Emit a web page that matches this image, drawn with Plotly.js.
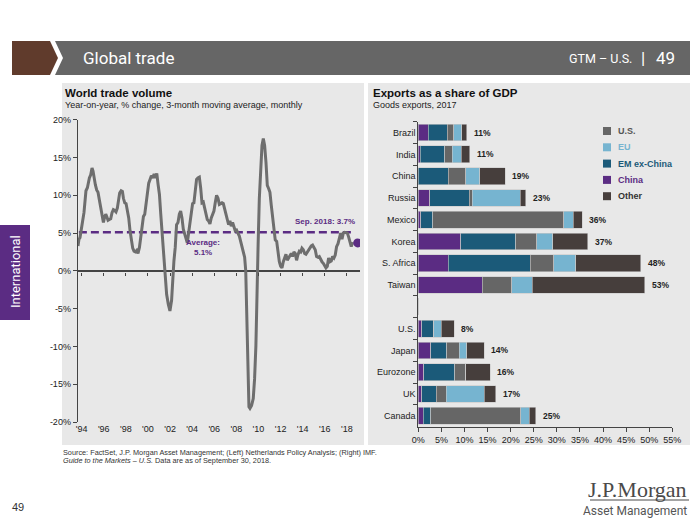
<!DOCTYPE html>
<html><head><meta charset="utf-8">
<script src="https://cdn.plot.ly/plotly-3.0.1.min.js"></script>
<style>html,body{margin:0;padding:0;background:#fff}#chart{width:700px;height:525px}</style>
</head><body><div id="chart"></div>
<script>
// ---------- Left chart: World trade volume (y/y %, 3m avg) ----------
const tradeYears = [
1993.67,1993.76,1993.85,1993.97,1994.09,1994.21,1994.30,1994.39,1994.52,1994.61,1994.70,1994.82,1994.94,
1995.03,1995.12,1995.24,1995.36,1995.48,1995.60,1995.72,1995.84,1995.97,1996.06,1996.18,1996.27,1996.39,
1996.51,1996.63,1996.75,1996.87,1996.99,1997.11,1997.23,1997.35,1997.44,1997.57,1997.69,1997.78,1997.90,
1998.02,1998.14,1998.26,1998.38,1998.50,1998.62,1998.74,1998.86,1998.98,1999.10,1999.23,1999.35,1999.47,
1999.59,1999.71,1999.83,1999.95,2000.07,2000.19,2000.31,2000.43,2000.56,2000.68,2000.80,2000.92,2001.04,
2001.16,2001.28,2001.39,2001.54,2001.69,2001.84,2001.99,2002.14,2002.23,2002.35,2002.47,2002.59,2002.72,
2002.84,2002.96,2003.08,2003.20,2003.32,2003.44,2003.56,2003.68,2003.80,2003.92,2004.04,2004.16,2004.28,
2004.40,2004.52,2004.65,2004.77,2004.89,2005.01,2005.13,2005.25,2005.37,2005.49,2005.61,2005.73,2005.85,
2005.97,2006.09,2006.21,2006.34,2006.46,2006.58,2006.70,2006.82,2006.94,2007.06,2007.18,2007.30,2007.42,
2007.54,2007.66,2007.78,2007.90,2008.02,2008.14,2008.27,2008.39,2008.51,2008.63,2008.75,2008.85,2008.93,
2009.00,2009.07,2009.14,2009.23,2009.38,2009.53,2009.65,2009.77,2009.83,2009.89,2009.97,2010.08,2010.20,
2010.32,2010.44,2010.56,2010.68,2010.80,2010.92,2011.04,2011.16,2011.28,2011.40,2011.52,2011.65,2011.77,
2011.89,2012.01,2012.13,2012.25,2012.37,2012.49,2012.61,2012.73,2012.85,2012.97,2013.09,2013.21,2013.33,
2013.45,2013.57,2013.70,2013.82,2013.94,2014.06,2014.18,2014.30,2014.42,2014.54,2014.66,2014.78,2014.90,
2015.02,2015.14,2015.26,2015.39,2015.51,2015.63,2015.75,2015.87,2015.99,2016.11,2016.23,2016.35,2016.47,
2016.59,2016.71,2016.83,2016.95,2017.07,2017.20,2017.32,2017.44,2017.56,2017.68,2017.80,2017.92,2018.04,
2018.16,2018.28,2018.40,2018.52];
const tradeValues = [
3.3,4.2,4.4,5.9,6.6,7.7,9.2,10.6,11.0,11.8,12.3,12.7,13.6,
13.2,12.1,11.4,10.7,10.4,9.4,8.3,7.2,6.4,7.0,7.5,7.2,6.7,
6.8,6.9,7.7,8.1,8.0,7.8,8.3,9.2,10.3,10.6,10.5,9.6,9.0,
8.9,8.1,7.0,5.3,3.7,3.0,2.6,2.5,2.7,2.3,3.1,4.4,5.9,
7.2,7.5,8.8,10.1,11.6,12.1,12.6,12.3,12.8,12.3,12.9,11.4,10.1,
7.5,4.8,2.2,0.0,-3.1,-4.4,-5.3,-3.9,-1.3,1.3,3.1,6.1,6.4,
7.5,7.9,7.0,5.5,4.8,4.4,3.7,5.0,6.1,7.7,8.9,9.0,10.5,
12.1,12.3,12.4,11.0,9.0,9.1,8.3,7.7,6.8,6.6,6.2,7.0,7.4,
7.9,9.0,10.0,9.6,8.8,8.9,9.0,8.9,8.1,7.5,6.8,6.1,6.6,
5.9,6.4,5.7,5.3,5.4,5.0,4.6,3.9,3.1,2.4,1.8,0.0,-4.5,
-9.0,-14.3,-18.0,-18.2,-17.8,-16.9,-14.3,-9.9,-4.6,0.0,3.5,9.6,14.4,
16.6,17.5,16.6,14.4,11.3,10.9,10.4,8.7,6.9,5.6,4.1,3.9,2.5,
1.2,0.6,0.4,1.2,1.9,2.2,1.4,1.7,2.1,2.3,1.9,2.5,2.3,
1.4,2.1,2.6,2.5,3.0,2.8,2.3,2.2,2.5,2.8,3.1,3.3,3.4,
3.1,2.8,1.9,1.8,1.9,1.4,1.2,1.0,0.6,0.4,0.6,1.7,1.2,
1.3,1.9,1.7,2.1,3.2,3.6,4.3,5.0,4.2,5.0,5.1,5.1,5.0,
4.5,3.9,3.2,3.8];
const averageValue = 5.1;
const averageSpan = [1993.75, 2018.45];
const latestYear = [2018.98];
const latestValue = [3.7];
const yearTicks = [1994,1996,1998,2000,2002,2004,2006,2008,2010,2012,2014,2016,2018];
const yearTickLabels = ["'94","'96","'98","'00","'02","'04","'06","'08","'10","'12","'14","'16","'18"];
const pctTicks = [-20,-15,-10,-5,0,5,10,15,20];
const pctTickLabels = ["-20%","-15%","-10%","-5%","0%","5%","10%","15%","20%"];

// ---------- Right chart: Exports as a share of GDP ----------
const countries = ['Brazil','India','China','Russia','Mexico','Korea','S. Africa','Taiwan',' ','U.S.','Japan','Eurozone','UK','Canada'];
const toChina     = [2.2, 0.4, 0.0,  2.5,  0.5,  9.2,  6.5, 13.9, 0, 0.7, 2.7, 1.2, 0.7,  1.1];
const toEMexChina = [4.1, 5.3, 6.5,  8.5,  2.6, 11.9, 17.7,  0.0, 0, 2.7, 3.5, 6.7, 3.2,  1.6];
const toUS        = [1.4, 1.7, 3.8,  0.7, 28.4,  4.5,  5.1,  6.3, 0, 0.0, 2.7, 2.4, 2.2, 19.5];
const toEU        = [1.7, 1.9, 3.0, 10.4,  2.1,  3.5,  4.8,  4.5, 0, 1.6, 1.6, 0.0, 8.2,  1.8];
const toOther     = [1.1, 1.8, 5.5,  1.2,  1.9,  7.6, 14.1, 24.3, 0, 2.8, 3.8, 5.3, 2.5,  1.4];
const totalLabels = ['11%','11%','19%','23%','36%','37%','48%','53%','','8%','14%','16%','17%','25%'];
const shareTicks = [0,5,10,15,20,25,30,35,40,45,50,55];
const shareTickLabels = ['0%','5%','10%','15%','20%','25%','30%','35%','40%','45%','50%','55%'];
const legendOrder = ['U.S.','EU','EM ex-China','China','Other'];

const FONT = 'Arial, "Liberation Sans", sans-serif';
const NARROW = '"Liberation Sans Narrow", "Roboto", "Open Sans", sans-serif';
const PURPLE = '#5b2c83', TEAL = '#1b5a79', GREY = '#666666', LBLUE = '#76b4d0', DARK = '#463e3c';
const W = 700, H = 525;
const px = x => x / W, py = y => 1 - y / H;

const segs = [
  {name:'China', vals:toChina, color:PURPLE, text:PURPLE},
  {name:'EM ex-China', vals:toEMexChina, color:TEAL, text:TEAL},
  {name:'U.S.', vals:toUS, color:GREY, text:'#555555'},
  {name:'EU', vals:toEU, color:LBLUE, text:LBLUE},
  {name:'Other', vals:toOther, color:DARK, text:'#333333'}
];

const traces = [];
traces.push({type:'scatter', mode:'lines', x:averageSpan, y:[averageValue, averageValue], xaxis:'x', yaxis:'y',
  line:{color:PURPLE, width:2.5, dash:'8px,4px'}, showlegend:false, hoverinfo:'skip'});
traces.push({type:'scatter', mode:'lines', x:tradeYears, y:tradeValues, xaxis:'x', yaxis:'y',
  line:{color:'#6e6e6e', width:3}, showlegend:false});
traces.push({type:'scatter', mode:'markers', x:latestYear, y:latestValue, xaxis:'x', yaxis:'y',
  marker:{color:PURPLE, size:9}, showlegend:false});
// axis on the zero line carrying the year ticks
traces.push({type:'scatter', mode:'markers', x:yearTicks, y:yearTicks.map(()=>null), xaxis:'x3', yaxis:'y',
  showlegend:false, hoverinfo:'skip'});

segs.forEach(s => {
  traces.push({type:'bar', orientation:'h', x:s.vals, y:countries, xaxis:'x2', yaxis:'y2', name:s.name,
    marker:{color:s.color, line:{color:'#c8c8c8', width:0.6}}, showlegend:false});
});

const annotations = [];
const ann = (text, x, y, o) => annotations.push(Object.assign({text, x:px(x), y:py(y), xref:'paper', yref:'paper',
  showarrow:false, xanchor:'left', yanchor:'middle', font:{family:FONT, size:9, color:'#222'}}, o||{}));

// header
ann('Global trade', 81, 58, {font:{family:NARROW, size:17, color:'#fff'}});
ann('GTM – U.S.', 634, 59, {xanchor:'right', font:{family:NARROW, size:12.5, color:'#fff'}});
ann('|', 643, 58, {xanchor:'center', font:{family:NARROW, size:17, color:'#fff'}});
ann('49', 654, 58, {font:{family:NARROW, size:17, color:'#fff'}});
// side tab
ann('International', 15, 272, {xanchor:'center', textangle:-90, font:{family:NARROW, size:13, color:'#fff'}});
// panel titles
ann('<b>World trade volume</b>', 63, 93, {font:{family:FONT, size:11.5, color:'#111'}});
ann('Year-on-year, % change, 3-month moving average, monthly', 63, 105, {font:{family:FONT, size:9, color:'#222'}});
ann('<b>Exports as a share of GDP</b>', 371, 93, {font:{family:FONT, size:11.5, color:'#111'}});
ann('Goods exports, 2017', 371, 105, {font:{family:FONT, size:9, color:'#222'}});
// line chart callouts
ann('<b>Sep. 2018: 3.7%</b>', 357, 222, {xanchor:'right', font:{family:FONT, size:8, color:PURPLE}});
ann('<b>Average:</b>', 203, 242, {xanchor:'center', font:{family:FONT, size:8, color:PURPLE}});
ann('<b>5.1%</b>', 203, 252, {xanchor:'center', font:{family:FONT, size:8, color:PURPLE}});
// footer
ann('Source: FactSet, J.P. Morgan Asset Management; (Left) Netherlands Policy Analysis; (Right) IMF.', 61, 452, {font:{family:FONT, size:7.3, color:'#333'}});
ann('<i>Guide to the Markets – U.S.</i> Data are as of September 30, 2018.', 61, 460, {font:{family:FONT, size:7.3, color:'#333'}});
ann('49', 10, 507, {font:{family:FONT, size:11, color:'#333'}});
ann('J.P.Morgan', 689, 489, {xanchor:'right', font:{family:'"Liberation Serif", "DejaVu Serif", serif', size:22, color:'#4a4a4a'}});
ann('Asset Management', 689, 511, {xanchor:'right', font:{family:NARROW, size:12, color:'#555'}});

// bar totals
countries.forEach((c, i) => {
  if (!totalLabels[i]) return;
  const tot = toChina[i] + toEMexChina[i] + toUS[i] + toEU[i] + toOther[i];
  annotations.push({text:'<b>'+totalLabels[i]+'</b>', x:tot, y:c, xref:'x2', yref:'y2', showarrow:false,
    xanchor:'left', xshift:5, yanchor:'middle', font:{family:FONT, size:8.5, color:'#222'}});
});

const shapes = [
  {type:'rect', xref:'paper', yref:'paper', x0:px(62), x1:px(364), y0:py(445), y1:py(83), fillcolor:'#e8e8e8', line:{width:0}, layer:'below'},
  {type:'rect', xref:'paper', yref:'paper', x0:px(368), x1:px(690), y0:py(445), y1:py(83), fillcolor:'#e8e8e8', line:{width:0}, layer:'below'},
  {type:'path', xref:'paper', yref:'paper', path:'M'+px(12)+','+py(41)+' L'+px(50)+','+py(41)+' L'+px(58)+','+py(58)+' L'+px(50)+','+py(75)+' L'+px(12)+','+py(75)+' Z',
    fillcolor:'#603b2c', line:{width:0}, layer:'below'},
  {type:'path', xref:'paper', yref:'paper', path:'M'+px(55)+','+py(41)+' L'+px(690)+','+py(41)+' L'+px(690)+','+py(75)+' L'+px(55)+','+py(75)+' L'+px(63)+','+py(58)+' Z',
    fillcolor:'#666666', line:{width:0}, layer:'below'},
  {type:'rect', xref:'paper', yref:'paper', x0:0, x1:px(30), y0:py(320), y1:py(225), fillcolor:PURPLE, line:{width:0}, layer:'below'},
  {type:'line', xref:'paper', yref:'paper', x0:px(590), x1:px(689), y0:py(500), y1:py(500), line:{color:'#4a4a4a', width:1}}
];

// legend keys (squares + coloured labels)
legendOrder.forEach((nm, k) => {
  const s = segs.find(v => v.name === nm);
  const yc = 131 + k * 16.3;
  shapes.push({type:'rect', xref:'paper', yref:'paper', x0:px(603), x1:px(611), y0:py(yc + 4), y1:py(yc - 4),
    fillcolor:s.color, line:{width:0}});
  ann('<b>'+nm+'</b>', 616, yc, {font:{family:FONT, size:9, color:s.text}});
});

const xr = [1993.67, 1993.67 + (360 - 78) / 11.05];
const layout = {
  width:W, height:H, margin:{l:0, r:0, t:0, b:0},
  paper_bgcolor:'#ffffff', plot_bgcolor:'rgba(0,0,0,0)',
  font:{family:FONT, size:9, color:'#222'},
  barmode:'stack', bargap:0.23,
  showlegend:false,
  xaxis:{domain:[px(78), px(360)], range:xr, tickvals:yearTicks, ticktext:yearTickLabels,
    showgrid:false, zeroline:false, showline:false, ticks:'', tickfont:{size:9, color:'#222'}, anchor:'y'},
  xaxis3:{overlaying:'x', anchor:'free', position:py(271.7), range:xr, tickvals:yearTicks, showticklabels:false,
    showgrid:false, zeroline:false, showline:false, ticks:'outside', ticklen:3, tickcolor:'#444', tickwidth:1},
  yaxis:{domain:[py(422), py(119.7)], range:[-20, 20], tickvals:pctTicks, ticktext:pctTickLabels,
    showgrid:false, zeroline:true, zerolinecolor:'#444', zerolinewidth:1.3, showline:true, linecolor:'#444', linewidth:1.3,
    ticks:'outside', ticklen:4, tickcolor:'#444', tickfont:{size:9, color:'#222'}, anchor:'x'},
  xaxis2:{domain:[px(418.3), px(672.3)], range:[0, 55], tickvals:shareTicks, ticktext:shareTickLabels,
    showgrid:false, zeroline:false, showline:true, linecolor:'#444', linewidth:1, ticks:'outside', ticklen:4, tickcolor:'#444',
    tickfont:{size:9, color:'#222'}, anchor:'y2'},
  yaxis2:{domain:[py(426.7), py(121.7)], type:'category', categoryorder:'array', categoryarray:countries, autorange:'reversed',
    showgrid:false, zeroline:false, showline:true, linecolor:'#444', linewidth:1, ticks:'outside', tickson:'boundaries',
    ticklen:4, tickcolor:'#444', tickfont:{size:9, color:'#222'}, anchor:'x2'},
  annotations, shapes
};
Plotly.newPlot('chart', traces, layout, {displayModeBar:false, staticPlot:true});
</script></body></html>
